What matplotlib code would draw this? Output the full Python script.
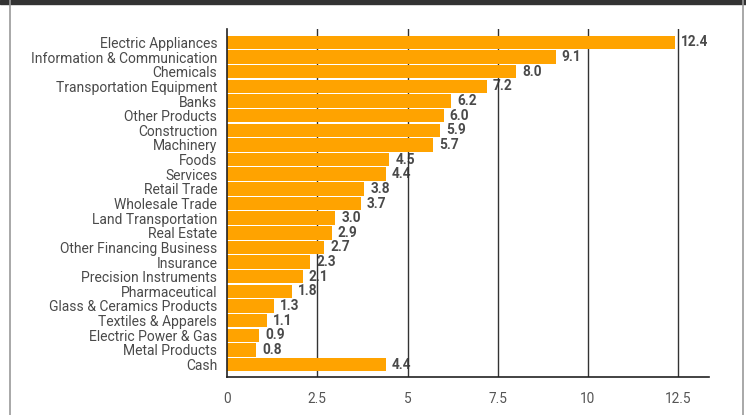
#!/usr/bin/env python3
"""Sector weights, horizontal bar chart."""
import matplotlib.pyplot as plt
from matplotlib.lines import Line2D
from matplotlib.patches import Rectangle

sectors = ["Electric Appliances", "Information & Communication", "Chemicals",
           "Transportation Equipment", "Banks", "Other Products", "Construction",
           "Machinery", "Foods", "Services", "Retail Trade", "Wholesale Trade",
           "Land Transportation", "Real Estate", "Other Financing Business",
           "Insurance", "Precision Instruments", "Pharmaceutical",
           "Glass & Ceramics Products", "Textiles & Apparels",
           "Electric Power & Gas", "Metal Products", "Cash"]
weights = [12.4, 9.1, 8.0, 7.2, 6.2, 6.0, 5.9, 5.7, 4.5, 4.4, 3.8, 3.7,
           3.0, 2.9, 2.7, 2.3, 2.1, 1.8, 1.3, 1.1, 0.9, 0.8, 4.4]
xticks = [0, 2.5, 5, 7.5, 10, 12.5]
xtick_labels = ["0", "2.5", "5", "7.5", "10", "12.5"]

FONT = "Roboto"
TXT = "#4a4a4a"


def main():
    fig = plt.figure(figsize=(7.46, 4.15), dpi=100)
    ax = fig.add_axes([0.3043, 0.0916, 0.646, 0.8385])

    y = list(range(len(sectors)))
    ax.barh(y, weights, height=0.92, color="#ffa300", zorder=2)

    # grid lines drawn over the labels but under the bars
    for t in xticks[1:]:
        ax.axvline(t, color="#333333", lw=1.0, zorder=1.5)

    for yi, v in zip(y, weights):
        ax.text(v + 0.17, yi, f"{v:.1f}", va="center", ha="left",
                fontsize=9.8, fontweight="bold", color=TXT, family=FONT,
                zorder=1)

    ax.set_xlim(0, 13.35)
    ax.set_ylim(len(sectors) - 1 + 0.85, -0.92)
    ax.set_yticks(y)
    ax.set_yticklabels(sectors, family=FONT, fontsize=10, color=TXT)
    ax.set_xticks(xticks)
    ax.set_xticklabels(xtick_labels, family=FONT, fontsize=9.8, color="#555555")
    ax.tick_params(axis="both", length=0)
    ax.tick_params(axis="y", pad=7)
    ax.tick_params(axis="x", pad=11)

    for s in ["top", "right"]:
        ax.spines[s].set_visible(False)
    ax.spines["left"].set_color("#222222")
    ax.spines["bottom"].set_color("#222222")
    ax.spines["left"].set_linewidth(1.2)
    ax.spines["bottom"].set_linewidth(1.2)

    # page frame: dark band on top, grey side rules
    fig.add_artist(Rectangle((0, 1 - 4 / 415), 1, 4 / 415,
                             transform=fig.transFigure, color="#333333"))
    fig.add_artist(Line2D([9.5 / 746] * 2, [0, 1], transform=fig.transFigure,
                          color="#999999", lw=1.2))
    fig.add_artist(Line2D([742.5 / 746] * 2, [0, 1], transform=fig.transFigure,
                          color="#999999", lw=1.2))

    fig.savefig("out.png", dpi=100)


if __name__ == "__main__":
    main()
